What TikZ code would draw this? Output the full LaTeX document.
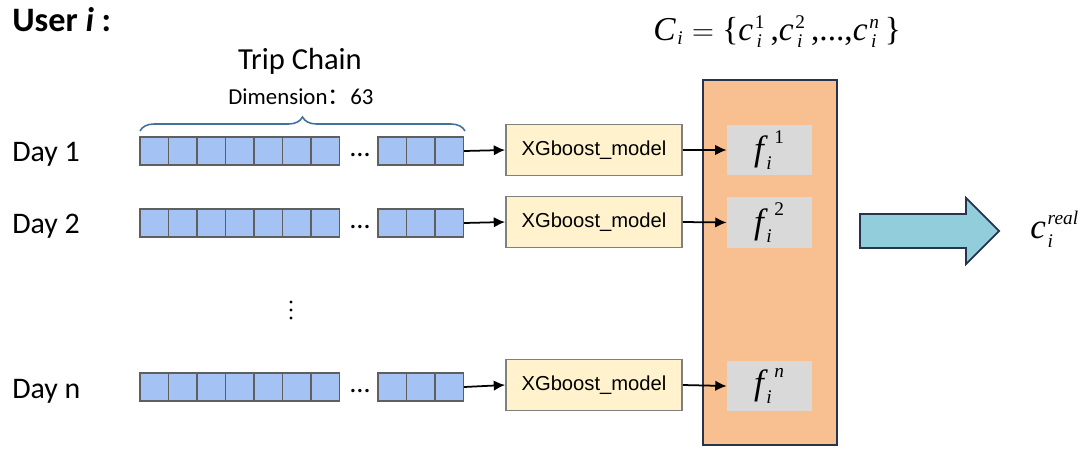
\documentclass[tikz,border=0pt]{standalone}
\usepackage{amsmath}
\usepackage{fontspec}
\setmainfont{Carlito}
\newfontfamily\arial{Liberation Sans}
\newfontfamily\tms{Liberation Serif}
\newfontfamily\cjk{Noto Sans CJK SC}
\usetikzlibrary{positioning,arrows.meta,decorations.pathreplacing}
\DeclareMathSizes{19}{19}{11}{8}
\DeclareMathSizes{20}{20}{11}{8}
\newcommand{\tm}[1]{\text{\tms\itshape #1}}
\newcommand{\tu}[1]{\text{\tms #1}}
\definecolor{cellblue}{RGB}{164,194,244}
\definecolor{cellgray}{RGB}{95,95,95}
\definecolor{modelfill}{RGB}{255,242,204}
\definecolor{modelgray}{RGB}{127,127,127}
\definecolor{fgray}{RGB}{217,217,217}
\definecolor{panelfill}{RGB}{248,192,144}
\definecolor{paneldraw}{RGB}{38,52,79}
\definecolor{bigfill}{RGB}{146,205,220}
\definecolor{bracecol}{RGB}{65,113,156}

\begin{document}
\begin{tikzpicture}[x=0.02cm, y=-0.02cm,
    cell/.style={rectangle, draw=cellgray, fill=cellblue, line width=0.8pt, minimum width=0.57cm, minimum height=0.56cm, inner sep=0pt},
    model/.style={rectangle, draw=modelgray, fill=modelfill, line width=1pt, minimum width=3.52cm, minimum height=1.02cm, font=\arial\fontsize{11.5}{14}\selectfont},
    fcell/.style={rectangle, fill=fgray, minimum width=1.7cm, minimum height=1cm, font=\fontsize{20}{24}\selectfont},
    arrow/.style={-{Latex[length=6.5pt,width=6pt]}, line width=1pt},
    daylbl/.style={anchor=base west, inner sep=0pt, font=\fontsize{17}{20}\selectfont},
    bigarrow/.style={draw=paneldraw, fill=bigfill, line width=1pt, line join=miter}
]
\useasboundingbox (0,0) rectangle (1085,450);

% Title
\node[anchor=base west, inner sep=0pt, font=\fontsize{19.5}{22}\selectfont\bfseries] (user) at (12,31) {User \textit{i} :};
\node[anchor=base west, inner sep=0pt, font=\fontsize{19}{22}\selectfont] (cset) at (653,40)
    {$\tm{C}_{\kern1pt\tm{i}}\mathrel{=}\tu{\{}\tm{c}_{\kern2pt\tm{i}}^{\kern1pt\tu{1}}\,\tu{,}\tm{c}_{\kern2pt\tm{i}}^{\kern1pt\tu{2}}\,\tu{,...,}\tm{c}_{\kern2pt\tm{i}}^{\kern1pt\tm{n}}\,\tu{\}}$};

% Trip chain header
\node[anchor=base, font=\fontsize{17.4}{20}\selectfont] (trip) at (300,69) {Trip Chain};
\node[anchor=base, font=\fontsize{13}{16}\selectfont] (dim) at (301,104) {Dimension{\cjk ：}63};
\draw[bracecol, line width=0.9pt, decorate, decoration={brace, amplitude=0.28cm}] (140,131) -- (465,131);

% Day labels
\node[daylbl] (day1) at (12,161) {Day 1};
\node[daylbl] (day2) at (12,233) {Day 2};
\node[daylbl] (dayn) at (12,398) {Day n};

% Trip chain cells
\foreach \r/\y in {1/151, 2/223, n/387} {
    \foreach \k in {1,...,7}
        \node[cell] (d\r c\k) at ({140+28.5*(\k-0.5)}, \y) {};
    \foreach \k in {8,9,10}
        \node[cell] (d\r c\k) at ({378+28.5*(\k-7.5)}, \y) {};
    \node[font=\fontsize{16}{18}\selectfont, inner sep=0pt] (dots\r) at (360,\y+4) {\dots};
}

% Rows left out
\foreach \y in {302,310,318}
    \fill (291,\y) circle[radius=0.034cm];

% Models
\node[model] (x1) at (594,150) {XGboost\_model};
\node[model] (x2) at (594,222) {XGboost\_model};
\node[model] (xn) at (594,385) {XGboost\_model};

% Output panel
\node[rectangle, draw=paneldraw, fill=panelfill, line width=1.2pt, minimum width=2.68cm, minimum height=7.3cm] (panel) at (770,262.5) {};
\node[fcell] (f1) at (769.5,150) {$\tm{f}_{\kern1.5pt\tm{i}}^{\kern6pt\tu{1}}$};
\node[fcell] (f2) at (769.5,222.5) {$\tm{f}_{\kern1.5pt\tm{i}}^{\kern6pt\tu{2}}$};
\node[fcell] (fn) at (769.5,386) {$\tm{f}_{\kern1.5pt\tm{i}}^{\kern6pt\tm{n}}$};

% Arrows
\draw[arrow] (d1c10.east) -- (x1.west);
\draw[arrow] (d2c10.east) -- (x2.west);
\draw[arrow] (dnc10.east) -- (xn.west);
\draw[arrow] (x1.east) -- (f1.west);
\draw[arrow] (x2.east) -- (f2.west);
\draw[arrow] (xn.east) -- (fn.west);

% Result
\draw[bigarrow] (860,214) -- (966,214) -- (966,198) -- (999,231) -- (966,264) -- (966,248) -- (860,248) -- cycle;
\node[anchor=base west, font=\fontsize{20}{24}\selectfont, inner sep=0pt] (creal) at (1030,238) {$\tm{c}_{\kern1pt\tm{i}}^{\kern1pt\tm{real}}$};

\end{tikzpicture}
\end{document}
